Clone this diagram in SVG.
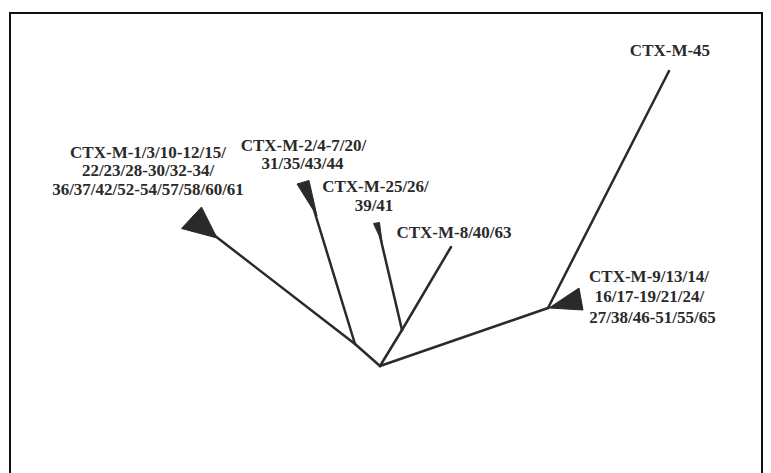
<svg xmlns="http://www.w3.org/2000/svg" width="771" height="473" viewBox="0 0 771 473">
<style>
.lbl{font-family:"Liberation Serif","Times New Roman",serif;font-weight:bold;font-size:17px;fill:#2a2a2a;text-anchor:middle}
.br{stroke:#2a2a2a;stroke-width:2.5;fill:none;stroke-linecap:round}
.tri{fill:#2a2a2a;stroke:#2a2a2a;stroke-width:1;stroke-linejoin:round}
</style>
<rect x="10" y="13" width="752" height="470" fill="#fff" stroke="#111" stroke-width="2"/>
<g id="connectors">
<line class="br" x1="380" y1="366" x2="355" y2="344"/>
<line class="br" x1="355" y1="344" x2="210" y2="232"/>
<line class="br" x1="355" y1="344" x2="314" y2="210"/>
<line class="br" x1="380" y1="366" x2="402" y2="330"/>
<line class="br" x1="402" y1="330" x2="380" y2="236"/>
<line class="br" x1="402" y1="330" x2="451" y2="247"/>
<line class="br" x1="380" y1="366" x2="548" y2="308"/>
<line class="br" x1="548" y1="308" x2="669" y2="71"/>
</g>
<g id="n-ctxm1">
<polygon class="tri" points="201.5,207 181.5,228.5 217,238"/>
<text class="lbl" x="148" y="158">CTX-M-1/3/10-12/15/</text>
<text class="lbl" x="148" y="176">22/23/28-30/32-34/</text>
<text class="lbl" x="148" y="195">36/37/42/52-54/57/58/60/61</text>
</g>
<g id="n-ctxm2">
<polygon class="tri" points="297,184 309,180.5 317,216"/>
<text class="lbl" x="303.5" y="151">CTX-M-2/4-7/20/</text>
<text class="lbl" x="302.5" y="169">31/35/43/44</text>
</g>
<g id="n-ctxm25">
<polygon class="tri" points="373.5,223.5 379.5,222.5 382,242"/>
<text class="lbl" x="375.5" y="192">CTX-M-25/26/</text>
<text class="lbl" x="374" y="211">39/41</text>
</g>
<g id="n-ctxm8">
<text class="lbl" x="454" y="238">CTX-M-8/40/63</text>
</g>
<g id="n-ctxm9">
<polygon class="tri" points="549,308 579,288 583,310"/>
<text class="lbl" x="649" y="282">CTX-M-9/13/14/</text>
<text class="lbl" x="649.5" y="302">16/17-19/21/24/</text>
<text class="lbl" x="652.5" y="322.5">27/38/46-51/55/65</text>
</g>
<g id="n-ctxm45">
<text class="lbl" x="670" y="56">CTX-M-45</text>
</g>
</svg>
